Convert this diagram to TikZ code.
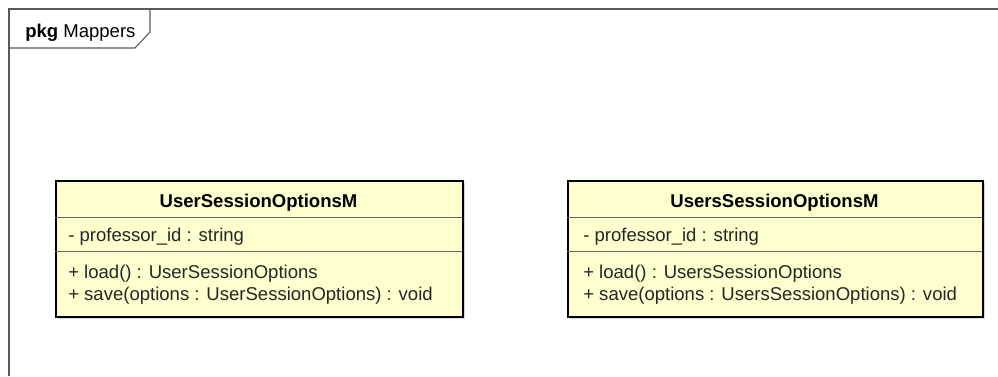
\documentclass[tikz,border=0pt]{standalone}
\usepackage{fontspec}
\setmainfont{Liberation Sans}
\usepackage{tikz}
\usetikzlibrary{positioning,shadows}
\definecolor{umlfill}{HTML}{FEFECE}

\begin{document}
\begin{tikzpicture}[x=0.75pt,y=-0.75pt,
	every node/.style={font=\fontsize{13.9}{16}\selectfont, text=black!85, inner sep=0pt},
	classbox/.style={draw=black, line width=1.5pt, fill=umlfill, anchor=north west,
		drop shadow={shadow xshift=1.5pt, shadow yshift=-1.5pt, fill=black!30}},
	classname/.style={anchor=base, text=black, font=\fontsize{13.9}{16}\selectfont\bfseries},
	member/.style={anchor=base west},
	divider/.style={draw=black!60, line width=0.75pt},
	pkgline/.style={draw=black!65, line width=0.8pt}]
\useasboundingbox (0,0) rectangle (998,376);
% package frame
\draw[pkgline] (9,376) -- (9,9) -- (998,9);
\draw[pkgline] (150,9) -- (150,32) -- (135,48) -- (9,48);
\node (pkg) [anchor=base west, text=black] at (25,37) {\textbf{pkg} Mappers};
% classes
\node (usm) [classbox, minimum width=305.25pt, minimum height=102pt] at (55,180) {};
\node (ussm) [classbox, minimum width=311.25pt, minimum height=102pt] at (567,180) {};
\draw[divider] (usm.north west) ++(0,37) -- ++(407,0) ++(0,34) -- ++(-407,0);
\draw[divider] (ussm.north west) ++(0,37) -- ++(415,0) ++(0,34) -- ++(-415,0);
\node (usm-name) [classname] at (258.5,207) {UserSessionOptionsM};
\node (usm-id) [member] at (68,241) {- professor\_id : string};
\node (usm-load) [member] at (68,278) {+ load() : UserSessionOptions};
\node (usm-save) [member] at (68,300) {+ save(options : UserSessionOptions) : void};
\node (ussm-name) [classname] at (774.5,207) {UsersSessionOptionsM};
\node (ussm-id) [member] at (583,241) {- professor\_id : string};
\node (ussm-load) [member] at (583,278) {+ load() : UsersSessionOptions};
\node (ussm-save) [member] at (583,300) {+ save(options : UsersSessionOptions) : void};
\end{tikzpicture}
\end{document}
